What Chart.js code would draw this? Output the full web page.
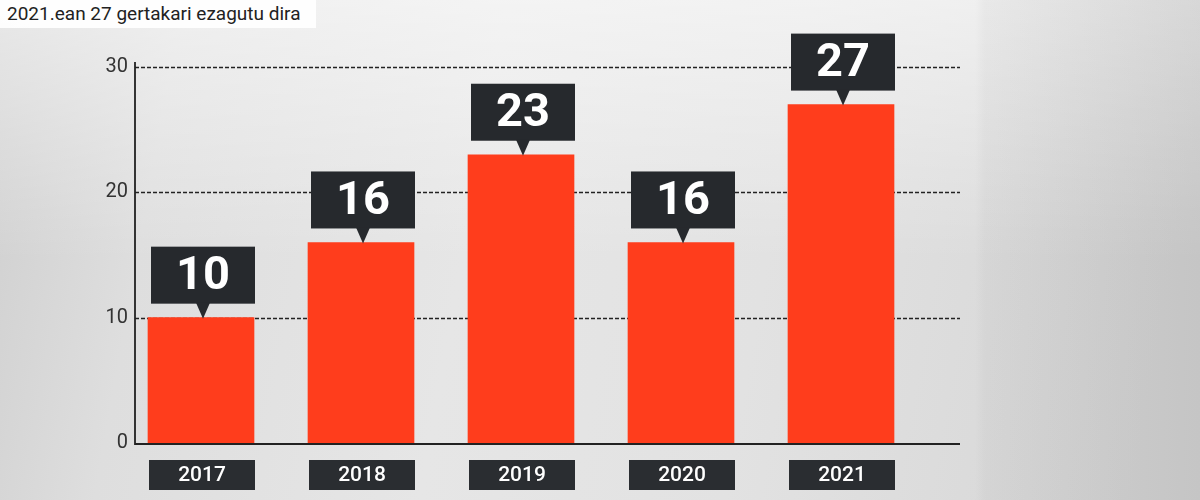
<!DOCTYPE html>
<html>
<head>
<meta charset="utf-8">
<script src="https://cdn.jsdelivr.net/npm/chart.js@4.4.0/dist/chart.umd.min.js"></script>
<style>
  html, body { margin: 0; padding: 0; }
  body {
    width: 1200px; height: 500px; overflow: hidden; position: relative;
    font-family: Roboto, "Noto Sans", sans-serif;
    background:
      linear-gradient(90deg, rgba(0,0,0,0) 0, rgba(0,0,0,0) 975px, rgba(120,120,120,0.06) 985px, rgba(120,120,120,0.18) 1200px),
      linear-gradient(180deg, rgba(255,255,255,0.55) 0, rgba(255,255,255,0) 260px),
      linear-gradient(100deg, #cfcfcf 0, #dedede 180px, #e6e6e6 500px, #e2e2e2 800px, #d6d6d6 1200px);
  }
  .title {
    position: absolute; left: 0; top: 0; height: 28px; width: 316px;
    background: rgba(255,255,255,0.92);
    font-size: 19px; color: #222; line-height: 27px; padding-left: 7px; box-sizing: border-box;
    white-space: nowrap;
  }
  #wrap { position: absolute; left: 0; top: 0; width: 1200px; height: 500px; }
</style>
</head>
<body>
<div class="title">2021.ean 27 gertakari ezagutu dira</div>
<div id="wrap"><canvas id="c" width="1200" height="500"></canvas></div>
<script>
const years = ['2017', '2018', '2019', '2020', '2021'];
const incidents = [10, 16, 23, 16, 27];
const yTicks = [0, 10, 20, 30];

const overlay = {
  id: 'overlay',
  beforeDatasetsDraw(chart) {
    const ctx = chart.ctx, y = chart.scales.y, a = chart.chartArea;
    const x0 = a.left + 14, x1 = a.right + 39;
    ctx.save();
    // dashed grid
    ctx.strokeStyle = '#222';
    ctx.lineWidth = 1.5;
    ctx.setLineDash([4, 2]);
    yTicks.forEach(t => {
      if (t === 0) return;
      const py = Math.round(y.getPixelForValue(t)) + 0.5;
      ctx.beginPath(); ctx.moveTo(x0, py); ctx.lineTo(x1, py); ctx.stroke();
    });
    ctx.setLineDash([]);
    // axes
    ctx.strokeStyle = '#222';
    ctx.lineWidth = 1.8;
    ctx.beginPath();
    ctx.moveTo(x0, y.getPixelForValue(30) - 5);
    ctx.lineTo(x0, y.getPixelForValue(0) + 1);
    ctx.lineTo(x1, y.getPixelForValue(0) + 1);
    ctx.stroke();
    // y tick labels
    ctx.fillStyle = '#333';
    ctx.font = '20px Roboto';
    ctx.textAlign = 'right';
    ctx.textBaseline = 'middle';
    yTicks.forEach(t => ctx.fillText(String(t), x0 - 7, y.getPixelForValue(t)));
    ctx.restore();
  },
  afterDatasetsDraw(chart) {
    const ctx = chart.ctx, meta = chart.getDatasetMeta(0);
    ctx.save();
    meta.data.forEach((bar, i) => {
      const cx = bar.x + 2;
      // year label box
      ctx.fillStyle = '#2a2d31';
      ctx.fillRect(bar.x - 52, 460, 106, 30);
      ctx.fillStyle = '#fff';
      ctx.font = '500 21px Roboto';
      ctx.textAlign = 'center';
      ctx.textBaseline = 'middle';
      ctx.fillText(years[i], bar.x + 1, 476);
      // value callout
      const tip = bar.y;
      const bottom = tip - 14;
      const top = bottom - 57;
      ctx.fillStyle = '#26292d';
      ctx.fillRect(cx - 52, top, 104, 57);
      ctx.beginPath();
      ctx.moveTo(cx - 7, bottom - 1);
      ctx.lineTo(cx + 7, bottom - 1);
      ctx.lineTo(cx, tip + 1);
      ctx.closePath();
      ctx.fill();
      ctx.fillStyle = '#fff';
      ctx.font = 'bold 47px Roboto';
      ctx.fillText(String(incidents[i]), cx, top + 31);
    });
    ctx.restore();
  }
};

new Chart(document.getElementById('c'), {
  type: 'bar',
  data: {
    labels: years,
    datasets: [{
      data: incidents,
      backgroundColor: '#ff3d1c',
      barThickness: 106,
      borderWidth: 0
    }]
  },
  options: {
    responsive: false,
    animation: false,
    layout: { padding: { left: 121, right: 279, top: 67, bottom: 57 } },
    plugins: { legend: { display: false }, tooltip: { enabled: false } },
    scales: {
      x: { display: false },
      y: { display: false, min: 0, max: 30 }
    }
  },
  plugins: [overlay]
});
</script>
</body>
</html>
